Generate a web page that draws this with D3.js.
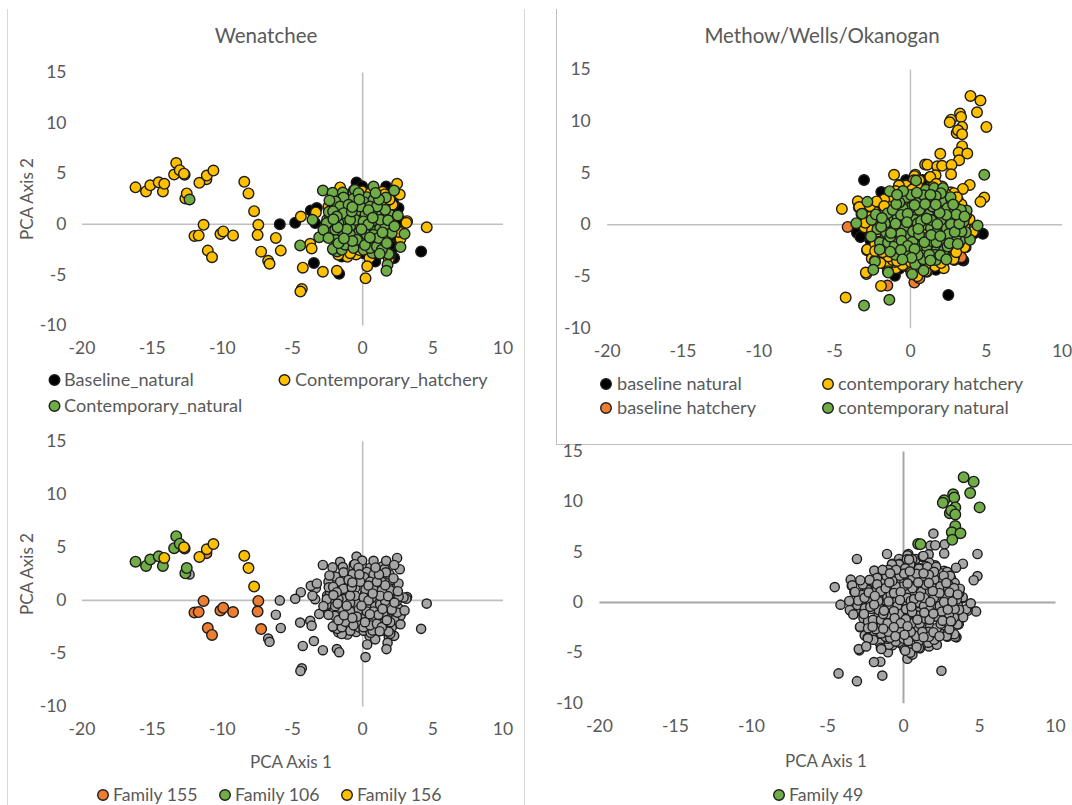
<!DOCTYPE html>
<html><head><meta charset="utf-8">
<script src="https://cdn.jsdelivr.net/npm/d3@7"></script>
<style>html,body{margin:0;padding:0;background:#fff}svg{display:block}text{font-family:Lato,"Open Sans",sans-serif;fill:#595959}</style>
</head><body><svg id="c" width="1072" height="805"></svg>
<script>
// ---------- Wenatchee data (PCA axis 1, PCA axis 2) ----------
const family155 = [[-11.3,-0.1],[-11.95,-1.2],[-11.65,-1.15],[-10.1,-1.0],[-9.9,-0.75],[-9.2,-1.15],[-11.0,-2.65],[-10.7,-3.3],[-7.4,-0.1],[-7.45,-1.1],[-7.2,-2.75],[-11.1,4.4]];
const family106 = [[-16.15,3.6],[-15.4,3.2],[-15.1,3.8],[-14.5,4.1],[-14.2,3.2],[-13.4,4.87],[-13.25,6.0],[-13.0,5.3],[-12.65,4.85],[-12.6,2.5],[-12.5,3.0]];
const family156 = [[-14.1,3.95],[-12.7,4.95],[-11.6,4.05],[-11.07,4.77],[-10.6,5.26],[-8.4,4.15],[-8.1,3.0],[-7.7,1.25]];
const wenHatcheryOther = [[-6.7,-3.65],[-6.6,-3.95],[-6.15,-1.4],[-5.8,-2.65],[-4.37,0.72],[-3.3,1.12],[-1.57,3.59],[2.49,3.95],[2.68,2.89],[1.45,3.16],[2.16,1.88],[3.2,0.26],[3.15,0.1],[2.33,-0.59],[2.73,-1.5],[-1.05,-3.26],[-0.43,-3.03],[0.52,-3.39],[0.36,-4.2],[0.24,-5.39],[-1.8,-4.64],[-2.8,-4.74],[-4.23,-4.34],[-4.3,-6.45],[-4.4,-6.7],[-3.7,-1.97],[-3.6,-2.43],[-1.7,-3.06],[0,3.2],[0.57,3.03],[-0.6,3.3],[-2.5,0.4],[-2.3,0.55],[-1.7,1.2],[-1.55,0.9],[-2.4,1.7],[1.64,2.04],[1.95,2.4],[-0.85,-2.9],[4.6,-0.35],[1.9,-3.5],[1.95,-3.0],[2.1,0.1],[1.5,0.5],[0.2,0.6],[-0.9,-1.4],[0.9,1.4],[-1.2,2.1],[1.3,-1.1],[2.6,-0.8],[-0.2,-2.6],[1.6,2.9]];
const wenBaseline = [[-5.87,-0.05],[-4.77,0.1],[-3.66,1.32],[-3.23,1.55],[-3.35,0.07],[-3.44,-3.88],[-1.64,-4.93],[-0.4,4.08],[0,3.7],[1.71,3.68],[2.59,1.55],[2.23,2.04],[2.47,-0.1],[2.95,0.23],[2.11,-1.58],[2.35,-2.24],[2.11,-2.57],[2.28,-3.39],[0.93,-3.72],[-2.04,-2.57],[-2.52,-0.6],[-1.45,-3.22],[2,-3.2],[4.2,-2.73],[2.1,-1.0],[2.3,-1.9],[2.6,0.3],[1.4,1.7],[1.1,1.5],[-2.7,-1.0],[0.1,-2.9],[0.6,-3.1],[1.6,-2.9],[2.0,-2.1],[2.5,-1.2],[1.9,1.1]];
const wenNatural = [[-2.8,3.29],[-2.11,3.06],[-1.38,3.09],[-0.62,2.93],[-0.52,3.36],[0.81,3.68],[0.33,2.63],[0.14,2.14],[-0.67,2.43],[-1.33,2.6],[-1.9,2.2],[-2.33,2.3],[-1.57,1.71],[-2.38,1.18],[-2.07,1.22],[-3.54,0.39],[-2.23,0],[-2.52,-0.43],[-3.06,-1.32],[-4.42,-2.14],[-1.95,-1.51],[-1.47,-0.76],[-1.02,-1.84],[-1.78,-2.73],[-2.09,-2.5],[-0.31,-2.14],[0.26,-1.64],[-0.4,-0.33],[0.38,-0.43],[0.93,-0.59],[1.12,0.16],[0.81,0.99],[0.24,0.99],[-0.48,1.15],[-0.95,0.89],[2,0.89],[2.54,0.82],[1.69,2.6],[2.28,3.29],[1.71,-1.09],[1.4,-2.27],[0.74,-2.89],[2.73,-2.3],[3.02,-0.99],[1.88,-2.99],[1.81,-4.05],[1.73,-4.64],[0.93,-1.51],[0.1,-2.57],[0.57,-2.4],[-1.33,0.07],[-0.86,-0.26],[-0.26,-0.92],[-0.86,-1.09],[0.33,-1.09],[1.28,-0.43],[1.64,-0.1],[-0.5,0.39],[0.1,0.23],[-1.69,0.07],[-1.45,-2.57],[-1.21,-2.07],[-0.62,-2.4],[1.05,-2.24],[1.52,-1.41],[-1.92,-0.59],[-2.52,0.07],[0.81,2.37],[-0.26,3.03],[0.57,1.71],[-0.14,1.71],[-0.97,1.88],[-1.33,1.05],[-1.81,0.72],[-0.86,0.39],[0.69,0.23],[1.4,0.89],[1.64,1.38],[-2.76,-0.59],[-2.4,-1.41],[0.81,-1.09],[-0.38,-1.58],[-1.69,-1.91],[1.4,-2.57],[1.16,-1.41],[2.11,-0.92],[1.76,-1.91],[-0.74,1.22],[1.28,0.39],[-12.3,2.4],[0.45,-0.05],[1.85,0.35],[-0.05,-0.55],[-1.1,-0.55],[-1.75,-0.35],[-2.05,0.45],[-0.7,1.65],[-0.2,2.4],[1.05,1.7],[0.45,1.35],[1.2,2.4],[0.95,3.05],[1.25,-2.95],[0.2,-2.1],[-0.7,-1.7],[-1.3,-1.45],[0.55,-1.35],[0.75,0.6],[2.3,-0.25],[1.45,-0.85]];

// ---------- Methow/Wells/Okanogan data ----------
const family49 = [[3.99,12.4],[4.65,11.95],[4.42,10.82],[5.04,9.4],[3.3,10.7],[3.37,10.37],[2.71,10.1],[2.62,9.85],[3.44,9.4],[3.08,8.82],[3.17,9.08],[3.44,8.7],[3.44,7.54],[3.21,6.92],[3.78,6.83],[3.24,6.18],[1.0,5.76],[1.15,5.75]];
const methowHatcheryOther = [[2.0,6.8],[1.8,5.6],[2.12,5.64],[2.74,5.73],[2.71,4.83],[-1.05,4.77],[0.32,4.57],[1.69,4.73],[1.3,4.48],[3.94,3.8],[3.49,3.41],[4.9,2.58],[4.65,2.16],[-4.49,1.48],[-3.44,2.22],[-3.37,1.61],[-0.66,3.7],[-0.25,3.74],[-1.39,1.93],[-2.83,-2.51],[-2.87,-4.8],[-1.91,-5.96],[-4.24,-7.09],[2.23,-4.25],[-2.07,-3.09],[-2.46,-3.22],[-1.48,-4.12],[-0.93,-4.25],[-1.0,-3.64],[-0.14,-4.12],[1.12,-4.6],[2.6,-3.16],[3.9,0.39],[-1.39,1.29],[3.17,2.32],[2.71,2.96],[-2.3,1.19],[-2.53,1.51],[-0.7,3.8],[-0.22,3.8],[0.35,4.77],[1.3,4.54],[2.7,3.09],[3.93,0.48],[-2.46,-3.38],[-2.02,-3.03],[-1.54,-4.03],[-0.15,-4.03],[2.59,-3.19],[2.92,-3.12],[-1.14,-3.45],[-1.43,-3.12],[-0.48,-3.93],[-2.35,1.22],[-1.41,1.32],[-2.13,0.1],[-0.7,-2.96],[0.51,-4.73],[1.27,-4.09],[1.71,-3.6],[0.3,4.64],[0.61,4.24],[0.25,4.24],[-0.27,3.74],[-0.73,3.74],[1.34,4.57],[2.12,3.64],[1.73,3.91],[1.5,3.58],[1.05,3.41],[0.48,3.74],[-3.34,1.66],[-2.64,1.75],[-3.2,0.99],[-2.59,-1.13],[-2.82,-2.45],[-2.52,-3.31],[-2.32,-3.54],[-2.91,-4.67],[-1.46,-4.54],[0.09,-4.7],[0.48,-5.03],[1.05,-4.54],[1.66,-4.04],[2.87,-3.38],[3.59,-2.22],[4.16,-0.73],
[-1.8,0.5],[-1.2,-0.3],[-0.6,0.1],[0.1,-0.3],[0.7,0.6],[1.5,-0.2],[2.2,0.3],[2.9,0.9],[3.4,1.9],[3.0,1.7],[2.4,2.2],[1.9,1.5],[1.2,2.0],[0.6,2.9],[0.0,2.7],[-0.5,2.0],[-1.1,2.6],[-1.7,2.4],[-2.2,2.2],[-2.7,0.7],[-2.1,-0.7],[-1.6,-1.2],[-1.0,-0.8],[-0.4,-1.6],[0.4,-1.9],[1.0,-1.0],[1.7,-1.2],[2.4,-1.0],[3.1,-0.9],[3.6,-0.3],[3.3,0.6],[2.7,-2.0],[2.1,-2.9],[1.3,-3.2],[0.6,-3.4],[-0.2,-3.2],[-0.9,-2.5],[-1.8,-2.7],[-2.3,-1.9],[0.2,1.1],[0.9,0.0],[-0.2,0.7],[1.6,0.7],[2.5,-0.4],[-1.4,-2.2],[-3.0,-0.3],[-2.5,-0.6],[0.3,-2.6],[1.5,-2.5],[3.2,-1.9],[3.7,0.9],[-0.9,1.0],[-1.6,-0.4],[2.9,3.0],[3.1,2.6],[-0.85,-3.55],[0.05,-3.65],[1.05,-3.85],[2.05,-3.75],[-1.95,-3.75],[-1.7,1.75],[-0.95,3.2],[0.15,3.35],[1.15,2.75],[2.35,2.95],[-2.95,0.15],[-2.3,-2.6],[3.65,-1.05],[3.05,-2.7],[-0.3,-2.25],[0.85,-2.6],[-1.25,0.2],[0.35,-1.25],[1.95,-0.6],[2.75,0.2]];
const methowBaselineNatural = [[-3.03,4.28],[-1.89,3.12],[-2.02,2.03],[-0.26,4.28],[0.84,4.28],[-3.45,-0.87],[-3.23,-1.19],[-3.12,-0.87],[-3.3,-0.55],[-3.5,-0.79],[-3.27,-1.23],[4.81,-0.93],[4.24,-0.87],[3.52,-3.51],[2.92,-3.45],[-0.99,-4.99],[2.53,-6.83],[1.71,-4.41],[-0.7,-4.3],[1.2,-4.0],[-2.6,-1.6],[3.43,-3.44]];
const methowBaselineHatchery = [[-4.11,-0.26],[-1.65,2.25],[-1.98,1.06],[-3.01,-0.06],[2.99,-0.39],[3.14,-2.16],[3.67,-2.22],[3.38,-3.19],[1.41,-3.83],[0.29,-5.64],[0.62,-5.22],[-1.49,-5.93],[-0.59,-3.06],[-1.69,-2.32],[-1.58,-1.51],[-0.6,-1.9],[2.6,1.2],[2.9,2.0]];
const methowNatural = [[4.9,4.77],[0.4,4.22],[-1.34,3.19],[-2.81,2.16],[-3.16,1],[-3.54,0.1],[-2.53,0.42],[-2.15,-0.48],[-2.57,-1.19],[-1.98,-1.77],[-1.45,-1.77],[-2.31,-3.61],[-2.42,-4.41],[-1.43,-4.67],[-3.03,-7.86],[-1.36,-7.31],[0.15,-4.83],[0.9,-4.48],[0.35,-3.86],[0.88,-3.38],[-0.22,-2.64],[-0.97,-2.96],[-1.01,-2.09],[-1.63,0.1],[-1.03,0.48],[-1.58,-0.81],[-0.92,-0.39],[-0.97,-1.19],[-0.31,-0.35],[0.29,0.42],[-0.22,2.61],[0.02,1.55],[-0.48,1.55],[0.64,2.45],[1.36,2.22],[1.05,3.32],[1.6,3.48],[2.18,3.48],[2.07,2.25],[2.68,2.61],[2.46,1.55],[1.69,0.9],[1.19,1],[1.05,-0.06],[0.51,0.1],[1.38,-0.39],[2.42,-0.39],[1.76,-0.81],[2.15,-1.45],[1.01,-1.35],[0.13,-1.45],[0.62,-2.09],[1.1,-2.16],[1.78,-2.48],[2.22,-2.58],[3.36,-1.51],[3.96,-1.51],[3.69,-0.77],[4.46,-0.13],[3.54,0.26],[3.74,1.32],[2.97,1.38],[2.86,0.64],[1.67,-2.96],[0.73,0.29],[-0.37,-0.39],[-0.81,0.74],[-0.26,-1.19],[1.49,-1.67],[0.51,-2.96],[1.49,1.71],[0.73,1.55],[0.18,-1.7],[2.77,-1.51],[3.03,-1.19],[3.14,-0.39],[2.04,0.42],[-1.47,1.06],[-1.14,1.38],[-0.59,0.9],[1.27,-2.96],[1.71,-3.45],[2.48,-2.16],[3.36,1.38],[2.04,3],[0.62,1.38],[0.07,2.83],[2.0,-3.0],[2.4,-3.4],[1.4,0.4],[0.2,-0.7],[-0.6,-0.9],[1.7,2.7],[0.9,2.8],[-0.7,2.1],[-1.3,-1.2],[2.7,0.0],[3.4,-0.7],[0.6,-1.0],[1.8,0.0],
[-1.9,-0.25],[-1.25,-0.85],[-2.25,0.95],[-0.15,1.0],[-0.9,1.95],[-0.55,-1.6],[-0.15,-2.1],[-0.6,-2.5],[0.3,-2.4],[0.95,-1.75],[2.55,-0.95],[2.95,-0.75],[3.25,0.05],[3.05,0.95],[2.4,0.9],[1.95,1.1],[1.1,0.55],[0.3,1.85],[1.0,1.95],[1.7,1.9],[1.35,2.85],[0.45,3.05],[-0.45,3.2],[-0.85,2.85],[0.55,-0.45],[1.75,-1.75],[2.6,-1.85],[1.4,-1.05],[-0.2,0.2],[-1.85,0.6],[2.0,-1.15],[2.85,1.9],[3.15,-1.9],[3.6,0.75],[1.35,-3.5],[0.1,-3.25],[-0.5,-3.4],[-1.3,-2.65],[-2.0,-2.45],[-0.95,0.05]];

// ---------- axes and labels ----------
const xTicks = [-20,-15,-10,-5,0,5,10];
const yTicks = [-10,-5,0,5,10,15];
const panelTitles = ["Wenatchee","Methow/Wells/Okanogan"];
const axisNames = ["PCA Axis 1","PCA Axis 2"];
const legendWen = ["Baseline_natural","Contemporary_hatchery","Contemporary_natural"];
const legendMet = ["baseline natural","contemporary hatchery","baseline hatchery","contemporary natural"];
const legendFam = ["Family 155","Family 106","Family 156"];
const legendF49 = ["Family 49"];

const BLACK="#000000", YELLOW="#ffc000", GREEN="#70ad47", ORANGE="#ed7d31", GREY="#a6a6a6", EDGE="#1c1c1c";
const svg = d3.select("#c");

function rules(list,color){ list.forEach(([x1,y1,x2,y2])=>svg.append("line").attr("x1",x1).attr("y1",y1).attr("x2",x2).attr("y2",y2).attr("stroke",color).attr("stroke-width",1)); }
rules([[7.5,9,7.5,805],[524.5,9,524.5,805]],"#d9d9d9");
rules([[556.5,9,556.5,444],[556,444.5,1072,444.5]],"#bfbfbf");

function panel(o){
  const x=d3.scaleLinear().domain([-20,10]).range(o.xr);
  const y=d3.scaleLinear().domain([-10,15]).range(o.yr);
  const g=svg.append("g");
  const ax=d3.axisBottom(x).tickValues(xTicks).tickFormat(d=>String(d)).tickSize(0).tickPadding(y(-10)-y(0)+o.xPad);
  const ay=d3.axisLeft(y).tickValues(yTicks).tickFormat(d=>String(d)).tickSize(0).tickPadding(x(0)-x(-20)+o.yPad);
  [g.append("g").attr("transform",`translate(0,${y(0)})`).call(ax),
   g.append("g").attr("transform",`translate(${x(0)},0)`).call(ay)].forEach(s=>{
     s.select(".domain").attr("stroke",o.axisColor).attr("stroke-width",o.axisWidth);
     s.selectAll("text").style("font-size","17.5px").attr("fill","#595959");
   });
  o.layers.forEach(l=>{
    g.append("g").selectAll("circle").data(l.pts).join("circle")
      .attr("cx",d=>x(d[0])).attr("cy",d=>y(d[1])).attr("r",l.r)
      .attr("fill",l.color).attr("stroke",EDGE).attr("stroke-width",1.4);
  });
}
const wenAll = family155.concat(family106,family156,wenHatcheryOther,wenBaseline,wenNatural);
const metHatch = family49.concat(methowHatcheryOther);
const metAll = methowBaselineNatural.concat(methowBaselineHatchery,metHatch,methowNatural);

panel({xr:[81.5,502.5],yr:[325,72],xPad:17,yPad:15,axisColor:"#bfbfbf",axisWidth:1.6,layers:[
  {pts:wenBaseline,color:BLACK,r:5.3},{pts:family155.concat(family106,family156,wenHatcheryOther),color:YELLOW,r:5.3},{pts:wenNatural,color:GREEN,r:5.3}]});
panel({xr:[606.7,1061.6],yr:[327.7,69],xPad:17,yPad:16,axisColor:"#bfbfbf",axisWidth:1.4,layers:[
  {pts:methowBaselineNatural,color:BLACK,r:5.3},{pts:methowBaselineHatchery,color:ORANGE,r:5.3},{pts:metHatch,color:YELLOW,r:5.3},{pts:methowNatural,color:GREEN,r:5.3}]});
panel({xr:[81.5,502.5],yr:[706,440.7],xPad:17,yPad:15,axisColor:"#bfbfbf",axisWidth:1.6,layers:[
  {pts:wenAll,color:GREY,r:4.6},{pts:family155,color:ORANGE,r:5.3},{pts:family106,color:GREEN,r:5.3},{pts:family156,color:YELLOW,r:5.3}]});
panel({xr:[599,1055],yr:[702.7,451],xPad:17,yPad:16,axisColor:"#a6a6a6",axisWidth:2,layers:[
  {pts:metAll,color:GREY,r:4.6},{pts:family49,color:GREEN,r:5.3}]});

function label(t,x,y,size,anchor,rot){
  const s=svg.append("text").text(t).attr("x",x).attr("y",y).attr("text-anchor",anchor||"start").attr("dominant-baseline","central").style("font-size",size+"px");
  if(rot) s.attr("transform",`rotate(${rot} ${x} ${y})`);
}
label(panelTitles[0],266,35,20.5,"middle");
label(panelTitles[1],822,35,20.5,"middle");
label(axisNames[1],26,199,17,"middle",-90);
label(axisNames[1],26,574,17,"middle",-90);
label(axisNames[0],291,761,17,"middle");
label(axisNames[0],826,760,17,"middle");

function legend(items,colors,xm,xt,ys,size){
  items.forEach((t,i)=>{
    svg.append("circle").attr("cx",xm[i]).attr("cy",ys[i]).attr("r",5.3).attr("fill",colors[i]).attr("stroke",EDGE).attr("stroke-width",1.4);
    label(t,xt[i],ys[i]-1,size);
  });
}
legend(legendWen,[BLACK,YELLOW,GREEN],[54.5,284.5,54.5],[64,295,64],[380,380,406],18.1);
legend(legendMet,[BLACK,YELLOW,ORANGE,GREEN],[606,828,606,828],[617,838,617,838],[384,384,408,408],18.1);
legend(legendFam,[ORANGE,GREEN,YELLOW],[103,225,347],[113,235,357],[795,795,795],17.7);
legend(legendF49,[GREEN],[779],[789],[795],17.7);
</script></body></html>
